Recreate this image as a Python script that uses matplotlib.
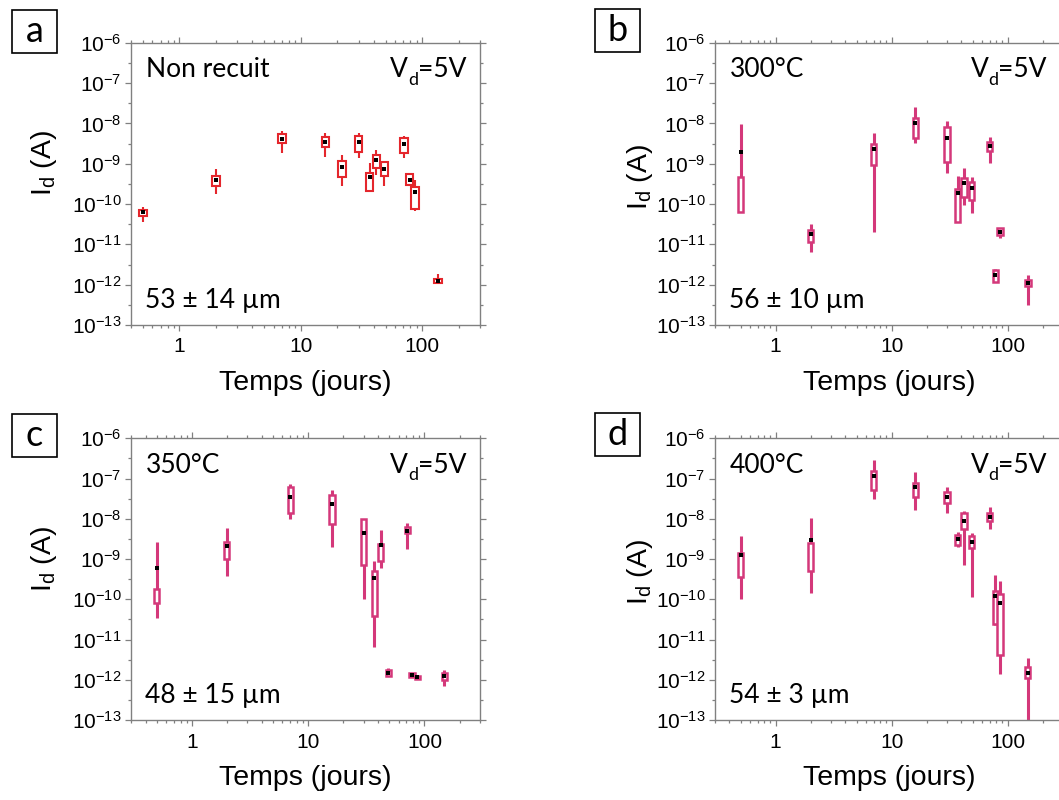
import numpy as np
import matplotlib
matplotlib.use('Agg')
import matplotlib.pyplot as plt
from matplotlib.patches import Rectangle
from matplotlib.ticker import FixedLocator, NullFormatter, LogLocator, FuncFormatter

plt.rcParams['font.family'] = ['Liberation Sans', 'DejaVu Sans']
plt.rcParams['mathtext.fontset'] = 'custom'
plt.rcParams['mathtext.rm'] = 'Liberation Sans'
plt.rcParams['mathtext.it'] = 'Liberation Sans:italic'
plt.rcParams['mathtext.bf'] = 'Liberation Sans:bold'

## a : non recuit
t_a = [0.5, 2, 7, 16, 22, 30, 37, 42, 49, 71, 79, 87, 135]
mean_a = [6.2e-11, 4.0e-10, 4.1e-9, 3.4e-9, 8.5e-10, 3.4e-9, 4.8e-10, 1.2e-9, 7.2e-10, 3.0e-9, 4.0e-10, 2.0e-10, 1.26e-12]
q3_a = [7.1e-11, 5.0e-10, 5.5e-9, 4.5e-9, 1.17e-9, 4.9e-9, 6.0e-10, 1.66e-9, 1.12e-9, 4.3e-9, 5.5e-10, 2.6e-10, 1.35e-12]
q1_a = [5.1e-11, 2.8e-10, 3.3e-9, 2.6e-9, 4.8e-10, 2.0e-9, 2.1e-10, 7.8e-10, 4.9e-10, 1.86e-9, 3.0e-10, 7.4e-11, 1.12e-12]
hi_a = [8.3e-11, 7.2e-10, 6.6e-9, 5.9e-9, 1.66e-9, 5.9e-9, 1.02e-9, 2.2e-9, 1.12e-9, 4.9e-9, 6.0e-10, 4.0e-10, 1.8e-12]
lo_a = [3.5e-11, 1.8e-10, 1.86e-9, 1.48e-9, 2.8e-10, 1.35e-9, 2.1e-10, 5.2e-10, 2.8e-10, 1.35e-9, 3.0e-10, 6.8e-11, 1.07e-12]

## b : 300°C
t_b = [0.5, 2, 7, 16, 30, 37, 42, 49, 70, 78, 86, 150]
mean_b = [2.0e-9, 1.8e-11, 2.3e-9, 1.0e-8, 4.4e-9, 1.9e-10, 3.4e-10, 2.5e-10, 2.75e-9, 1.74e-12, 2.0e-11, 1.12e-12]
q3_b = [4.6e-10, 2.3e-11, 3.0e-9, 1.32e-8, 8.3e-9, 2.3e-10, 4.4e-10, 3.5e-10, 3.5e-9, 2.3e-12, 2.5e-11, 1.32e-12]
q1_b = [6.5e-11, 1.12e-11, 9.3e-10, 4.3e-9, 1.12e-9, 3.6e-11, 1.51e-10, 1.26e-10, 2.1e-9, 1.17e-12, 1.7e-11, 9.3e-13]
hi_b = [9.5e-9, 3.2e-11, 5.9e-9, 2.5e-8, 1.17e-8, 4.9e-10, 7.8e-10, 4.6e-10, 4.5e-9, 2.5e-12, 2.6e-11, 1.74e-12]
lo_b = [6.5e-11, 6.6e-12, 2.0e-11, 3.3e-9, 5.8e-10, 3.6e-11, 9.5e-11, 5.9e-11, 1.05e-9, 1.17e-12, 1.4e-11, 3.2e-13]

## c : 350°C
t_c = [0.5, 2, 7, 16, 30, 37, 42, 49, 71, 78, 87, 148]
mean_c = [5.9e-10, 2.1e-9, 3.5e-8, 2.3e-8, 4.4e-9, 3.3e-10, 2.2e-9, 1.5e-12, 5.0e-9, 1.3e-12, 1.15e-12, 1.23e-12]
q3_c = [1.82e-10, 2.6e-9, 6.3e-8, 3.9e-8, 9.8e-9, 4.9e-10, 2.3e-9, 1.74e-12, 6.2e-9, 1.45e-12, 1.26e-12, 1.5e-12]
q1_c = [8.3e-11, 9.8e-10, 1.38e-8, 7.4e-9, 7.1e-10, 3.8e-11, 9.1e-10, 1.23e-12, 4.4e-9, 1.17e-12, 1.02e-12, 9.8e-13]
hi_c = [2.7e-9, 5.8e-9, 7.2e-8, 5.2e-8, 9.8e-9, 8.9e-10, 5.2e-9, 2.0e-12, 7.8e-9, 1.45e-12, 1.26e-12, 1.74e-12]
lo_c = [3.5e-11, 3.8e-10, 9.8e-9, 2.0e-9, 1.0e-10, 6.5e-12, 5.9e-10, 1.23e-12, 1.74e-9, 1.17e-12, 1.02e-12, 6.8e-13]

## d : 400°C
t_d = [0.5, 2, 7, 16, 30, 37, 42, 49, 70, 78, 86, 149]
mean_d = [1.26e-9, 2.9e-9, 1.17e-7, 6.3e-8, 3.4e-8, 3.2e-9, 8.7e-9, 2.6e-9, 1.12e-8, 1.23e-10, 8.1e-11, 1.5e-12]
q3_d = [1.38e-9, 2.45e-9, 1.55e-7, 7.6e-8, 4.6e-8, 4.0e-9, 1.38e-8, 3.7e-9, 1.38e-8, 1.62e-10, 1.35e-10, 2.1e-12]
q1_d = [3.5e-10, 5.0e-10, 5.2e-8, 3.5e-8, 2.5e-8, 2.2e-9, 5.5e-9, 1.86e-9, 8.9e-9, 2.5e-11, 4.1e-12, 1.1e-12]
hi_d = [3.7e-9, 1.07e-8, 2.9e-7, 1.48e-7, 6.3e-8, 4.8e-9, 1.58e-8, 4.5e-9, 2.0e-8, 4.0e-10, 2.8e-10, 3.5e-12]
lo_d = [1.02e-10, 1.41e-10, 3.1e-8, 1.66e-8, 1.38e-8, 1.95e-9, 7.1e-10, 1.15e-10, 5.6e-9, 2.3e-11, 1.38e-12, 5e-14]

ROUGE = '#e4262c'
ROSE = '#d4387a'
ANNOT = 'Lato'


def boites(ax, t, moy, q1, q3, lo, hi, col, w, lw_box, lw_wh):
    t = np.array(t)
    q1 = np.array(q1)
    q3 = np.array(q3)
    ##largeur des boites en décades (axe log)
    left = t * 10 ** (-w / 2)
    width = t * (10 ** (w / 2) - 10 ** (-w / 2))
    ax.vlines(t, lo, hi, color=col, lw=lw_wh, zorder=2)
    ax.bar(left, q3 - q1, width=width, bottom=q1, align='edge',
           facecolor='white', edgecolor=col, lw=lw_box, zorder=3)
    ax.plot(t, moy, 's', color='k', ms=2.8, mew=0, zorder=4)


def axe(ax, xmin):
    ax.set_xscale('log')
    ax.set_yscale('log')
    ax.set_xlim(xmin, 300)
    ax.set_ylim(1e-13, 1e-6)
    ax.set_xticks([1, 10, 100], ['1', '10', '100'])
    ax.xaxis.set_minor_locator(LogLocator(subs=np.arange(2, 10)))
    ax.xaxis.set_minor_formatter(NullFormatter())
    ax.yaxis.set_major_locator(FixedLocator([10.0 ** k for k in range(-13, -5)]))
    ax.yaxis.set_major_formatter(FuncFormatter(lambda v, p: r'$10^{%d}$' % round(np.log10(v))))
    ax.yaxis.set_minor_locator(FixedLocator([10.0 ** (k + 0.5) for k in range(-13, -6)]))
    ax.yaxis.set_minor_formatter(NullFormatter())
    for s in ax.spines.values():
        s.set_color('0.5')
        s.set_linewidth(1.0)
    ax.tick_params(which='both', direction='out', top=True, right=True,
                   color='0.5', width=0.9)
    ax.tick_params(which='major', length=4, labelsize=15)
    ax.tick_params(which='minor', length=2.5)
    ax.tick_params(axis='x', pad=5)
    ax.tick_params(axis='y', pad=3)
    ax.set_xlabel('Temps (jours)', fontsize=20.5)
    ax.xaxis.set_label_coords(0.5, -0.16)


def vd(ax, xr, yb):
    t1 = ax.text(xr, yb, '=5V', transform=ax.transAxes, ha='right', va='baseline',
                 fontsize=19, family=ANNOT)
    t2 = ax.annotate('d', xy=(0, 0), xycoords=t1, xytext=(0, -4), textcoords='offset points',
                     ha='right', va='bottom', fontsize=13, family=ANNOT)
    ax.annotate('V', xy=(0, 0), xycoords=(t2, t1), ha='right', va='bottom',
                fontsize=19, family=ANNOT)


fig = plt.figure(figsize=(10.59, 8), dpi=100)
W, H = 1059.0, 800.0

panneaux = [
    ('a', [131, 42.7, 349, 282.3], 0.4, (t_a, mean_a, q1_a, q3_a, lo_a, hi_a), ROUGE,
     'Non recuit', '53 ± 14 µm', (12, 10), (-0.25, 0.574), 0.062, 1.5, 1.5),
    ('b', [715, 42.7, 348, 282.3], 0.3, (t_b, mean_b, q1_b, q3_b, lo_b, hi_b), ROSE,
     '300°C', '56 ± 10 µm', (595, 9), (-0.216, 0.524), 0.045, 1.8, 2.2),
    ('c', [131, 438.3, 349, 281.7], 0.3, (t_c, mean_c, q1_c, q3_c, lo_c, hi_c), ROSE,
     '350°C', '48 ± 15 µm', (12, 414), (-0.25, 0.571), 0.045, 1.8, 2.2),
    ('d', [715, 438.3, 348, 281.7], 0.3, (t_d, mean_d, q1_d, q3_d, lo_d, hi_d), ROSE,
     '400°C', '54 ± 3 µm', (595, 413), (-0.216, 0.524), 0.045, 1.8, 2.2),
]

for lettre, (x0, y0, w, h), xmin, d, col, titre, diam, (bx, by), (lx, ly), bw, lwb, lww in panneaux:
    ax = fig.add_axes([x0 / W, 1 - (y0 + h) / H, w / W, h / H])
    axe(ax, xmin)
    boites(ax, *d, col, bw, lwb, lww)
    ax.text(lx, ly, r'I$_\mathregular{d}$ (A)', transform=ax.transAxes, rotation=90,
            ha='center', va='center', fontsize=20.5)
    x_txt = 0.044 if lettre in 'ac' else 0.043
    ax.text(x_txt, 0.878, titre, transform=ax.transAxes, ha='left', va='baseline',
            fontsize=19, family=ANNOT)
    ax.text(x_txt - 0.003, 0.06, diam, transform=ax.transAxes, ha='left', va='baseline',
            fontsize=19, family=ANNOT)
    vd(ax, 0.962 if lettre in 'ac' else 0.954, 0.878)
    ##lettre du panneau dans un cadre
    fig.add_artist(Rectangle((bx / W, 1 - (by + 43) / H), 45 / W, 43 / H,
                             transform=fig.transFigure, fill=False, ec='black', lw=1.2))
    fig.text((bx + 22.5) / W, 1 - (by + 21.5) / H, lettre, ha='center', va='center',
             fontsize=26, family=ANNOT)

plt.savefig('out.png', dpi=100)
